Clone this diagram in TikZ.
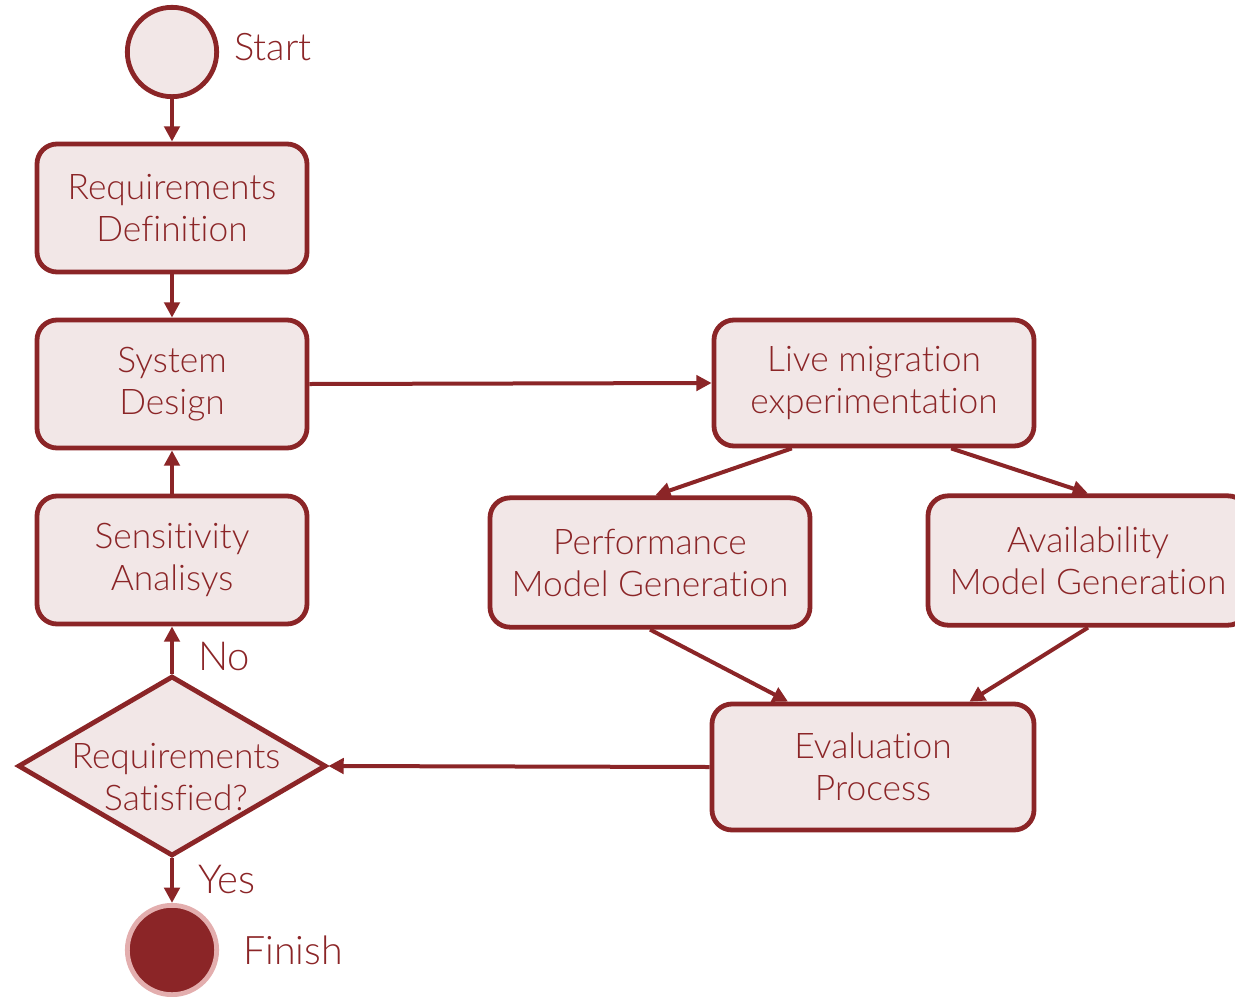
\documentclass[tikz,border=0pt]{standalone}
\usepackage{fontspec}
\setmainfont[RawFeature={-liga;-dlig;-calt}]{Lato Light}
\usetikzlibrary{arrows.meta,shapes.geometric,calc}
\definecolor{wine}{HTML}{8B2527}
\definecolor{blush}{HTML}{F2E7E7}
\definecolor{rosering}{HTML}{E3AEAE}
\begin{document}
\begin{tikzpicture}[x=0.75pt,y=-0.75pt,
  stepbox/.style={draw=wine,fill=blush,line width=3.6pt,rounded corners=15pt,
    align=center,text=wine,inner sep=0pt,
    font=\fontsize{26.5}{31.5}\selectfont},
  startcircle/.style={circle,draw=wine,fill=blush,line width=3.6pt,minimum size=67pt,inner sep=0pt},
  endcircle/.style={circle,draw=rosering,fill=wine,line width=3.6pt,minimum size=67pt,inner sep=0pt},
  decision/.style={diamond,draw=wine,fill=blush,line width=3.6pt,inner sep=0pt,
    minimum width=231pt,minimum height=135pt},
  lbl/.style={text=wine,anchor=west,inner sep=0pt,font=\fontsize{30}{36}\selectfont},
  flow/.style={draw=wine,line width=3pt,-{Triangle[length=11.5pt,width=11.5pt]}}]
\useasboundingbox (0,0) rectangle (1235,996);

% start and end states
\node[startcircle] (start) at (172,52) {};
\node[lbl,font=\fontsize{28.5}{34}\selectfont] (startlbl) at (234,47) {Start};
\node[endcircle] (finish) at (172,950) {};
\node[lbl,font=\fontsize{29.5}{35}\selectfont] (finishlbl) at (243,950) {Finish};

% left column
\node[stepbox,minimum width=202.5pt,minimum height=96pt] (req) at (172,208) {Requirements\\Definition};
\node[stepbox,minimum width=202.5pt,minimum height=96pt] (sys) at (172,384) {System\\Design};
\node[stepbox,minimum width=202.5pt,minimum height=96pt] (sens) at (172,560) {Sensitivity\\Analisys};

% decision
\node[decision] (dec) at (172,766) {};
\node[text=wine,align=center,inner sep=0pt,font=\fontsize{26.5}{31.5}\selectfont] (dectext) at (176,777) {Requirements\\Satisfied?};

% right part
\node[stepbox,minimum width=240pt,minimum height=94.5pt] (live) at (874,383) {Live migration\\experimentation};
\node[stepbox,minimum width=240pt,minimum height=97pt] (perf) at (650,562.5) {Performance\\Model Generation};
\node[stepbox,minimum width=240pt,minimum height=97pt] (avail) at (1088,560.5) {Availability\\Model Generation};
\node[stepbox,minimum width=241.5pt,minimum height=94.5pt] (eval) at (873,767) {Evaluation\\Process};

% labels on the decision outputs
\node[lbl] (nolbl) at (198,656) {No};
\node[lbl] (yeslbl) at (198,879) {Yes};

% connectors
\draw[flow] (start.south) -- (req.north);
\draw[flow] (req.south) -- (sys.north);
\draw[flow] (sens.north) -- (sys.south);
\draw[flow] (dec.north) -- (sens.south);
\draw[flow] (dec.south) -- (finish.north);
\draw[flow] (sys.east) -- (live.west);
\draw[flow] ($(live.south west)!0.247!(live.south east)$) -- ($(perf.north west)!0.516!(perf.north east)$);
\draw[flow] ($(live.south west)!0.7375!(live.south east)$) -- (avail.north);
\draw[flow] (perf.south) -- ($(eval.north west)!0.24!(eval.north east)$);
\draw[flow] (avail.south) -- ($(eval.north west)!0.795!(eval.north east)$);
\draw[flow] (eval.west) -- (dec.east);
\end{tikzpicture}
\end{document}
